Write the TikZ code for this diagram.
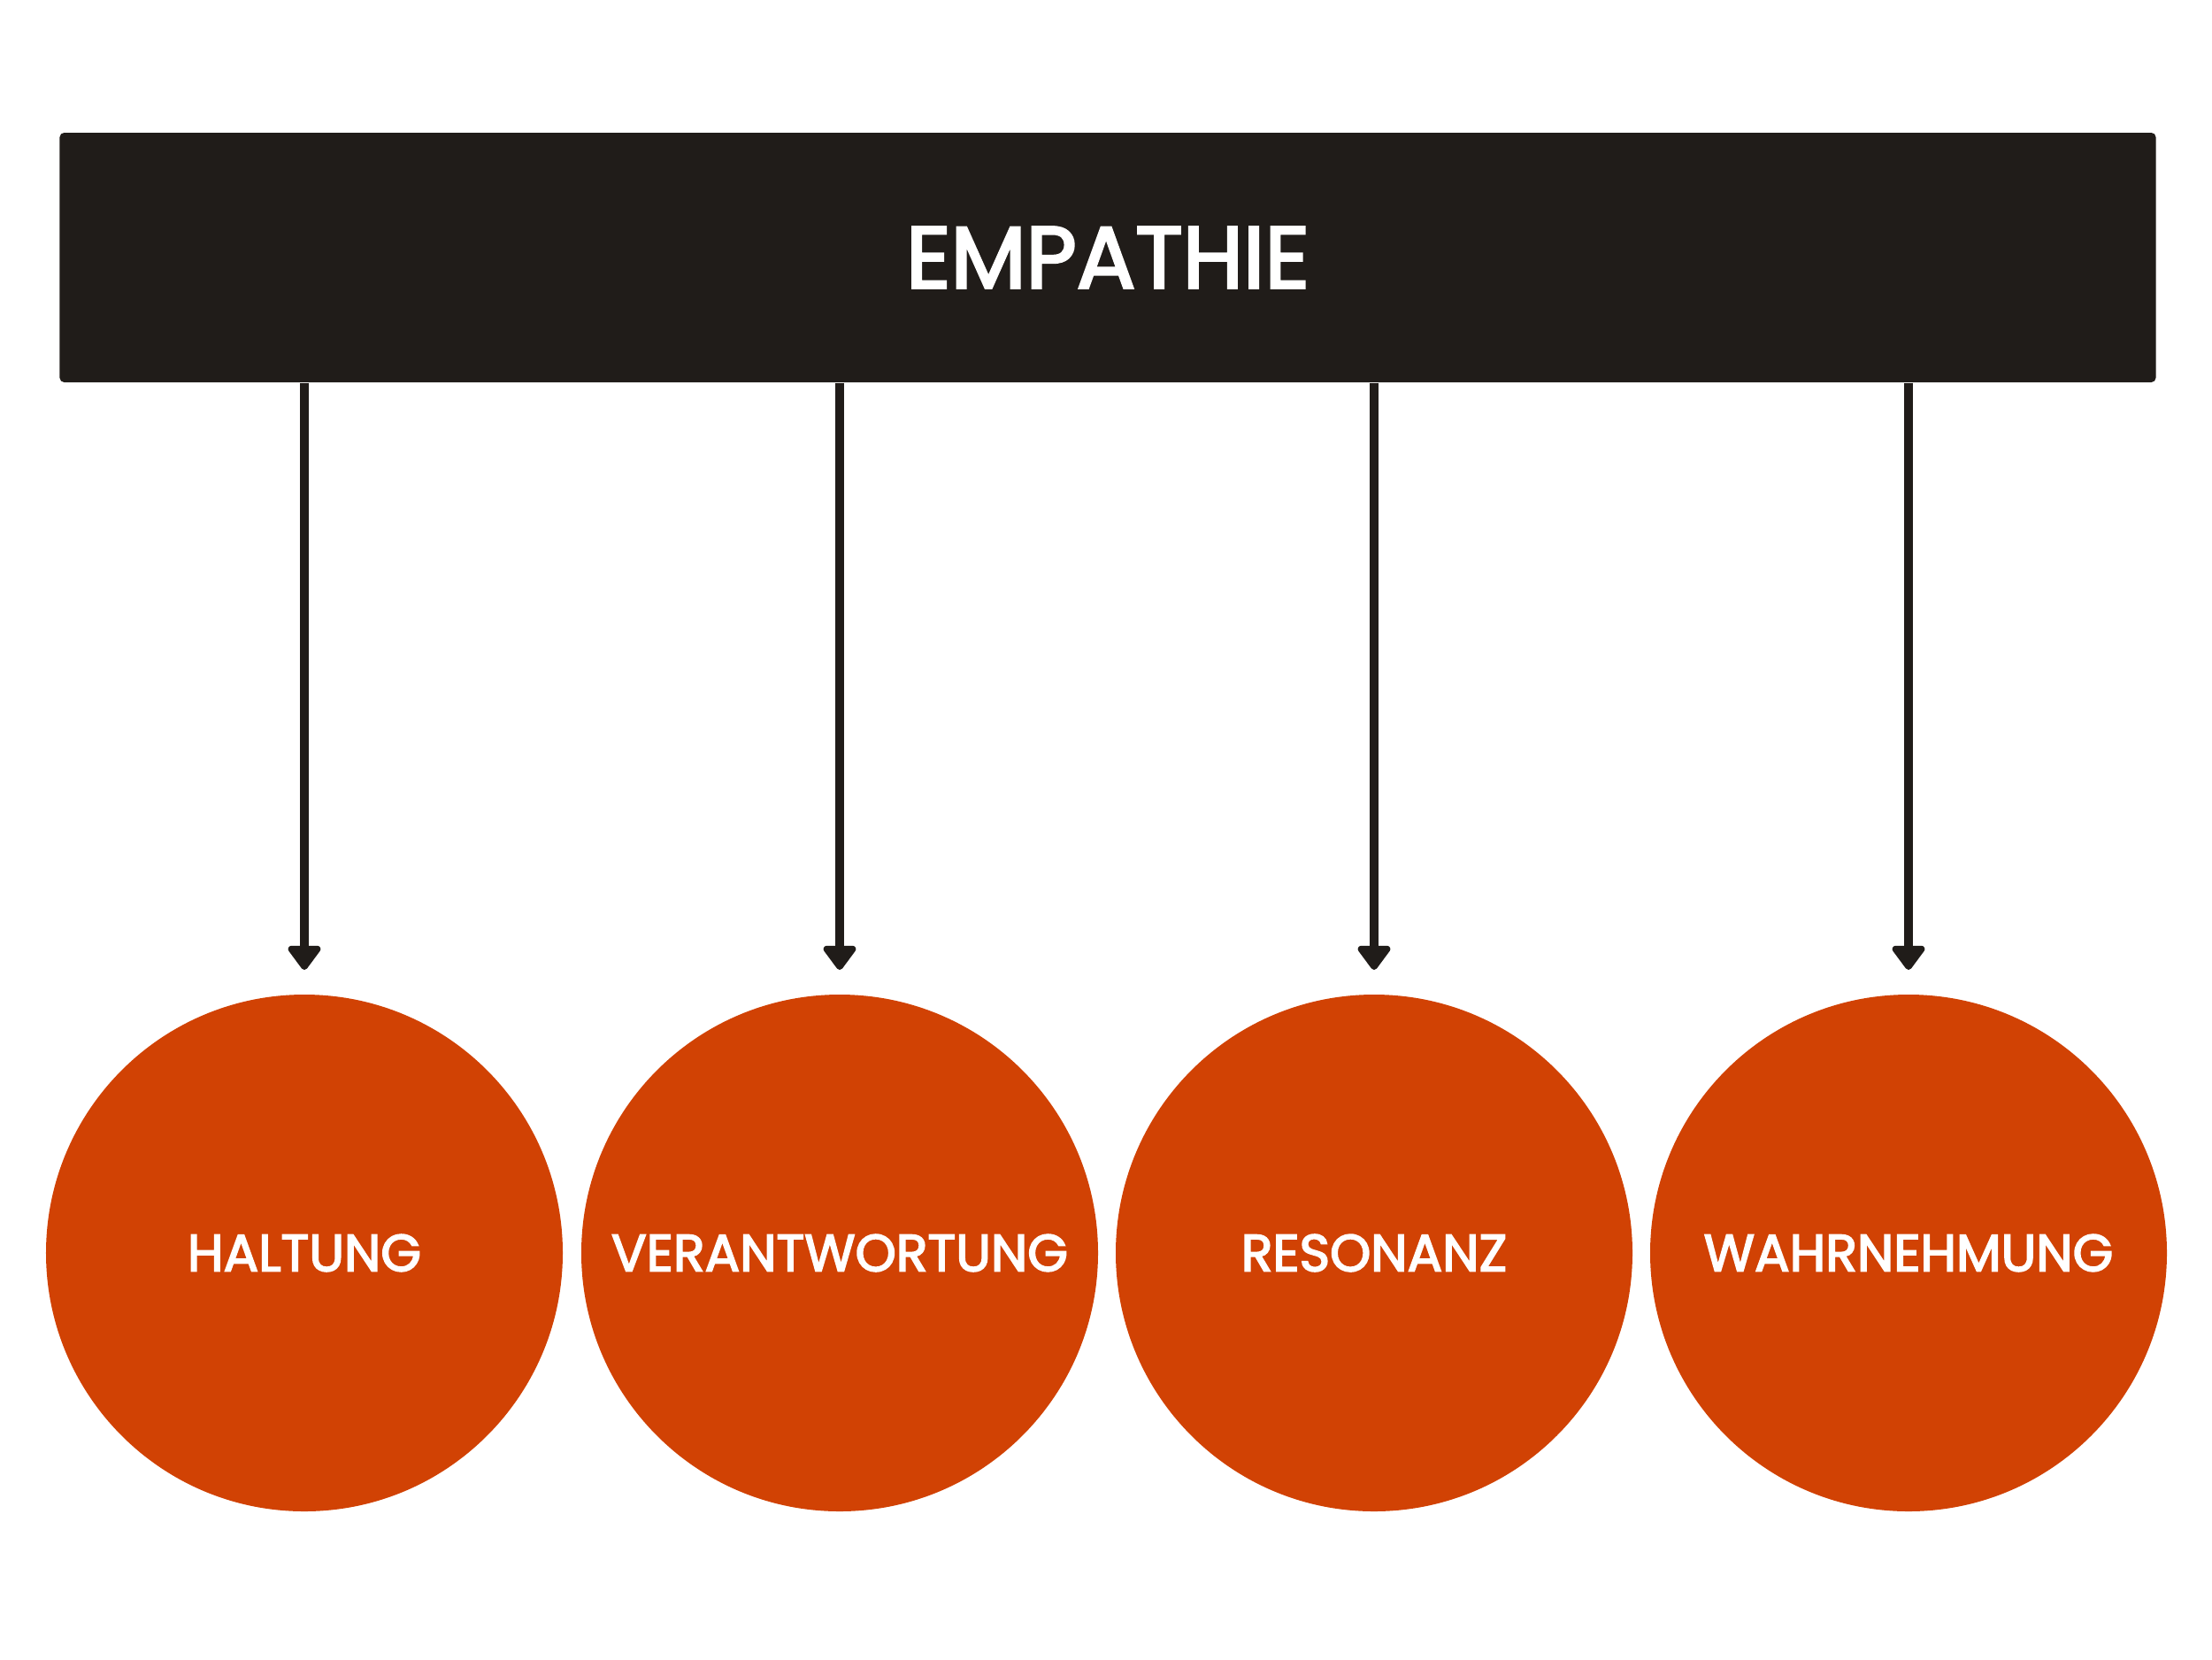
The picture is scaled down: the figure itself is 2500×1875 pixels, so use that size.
\documentclass[tikz,border=0pt]{standalone}
\usepackage{fontspec}
\setmainfont{Poppins}
\newfontfamily\medfont{Poppins}[FakeBold=3]
\usetikzlibrary{arrows.meta}
\definecolor{boxblack}{HTML}{201C19}
\definecolor{circorange}{HTML}{D14204}
\tikzset{
  topbox/.style={fill=boxblack, rounded corners=2pt, inner sep=0pt,
    minimum width=947.6pt, minimum height=112.8pt, text=white,
    font=\medfont\fontsize{39.5}{42}\selectfont},
  topic/.style={circle, fill=circorange, inner sep=0pt, minimum size=233.6pt,
    text=white, font=\medfont\fontsize{23.5}{26}\selectfont},
  conn/.style={draw=boxblack, line width=4.2pt,
    -{Triangle[width=16.8pt, length=12pt, round]}, shorten >=11pt}
}
\begin{document}
\begin{tikzpicture}[x=0.4pt, y=-0.4pt]
\useasboundingbox (0,0) rectangle (2500,1875);
\node[topbox] (emp) at (1252,291) {EMPATHIE};
\node[topic] (h) at (344,1416) {HALTUNG};
\node[topic] (v) at (949,1416) {VERANTWORTUNG};
\node[topic] (r) at (1553,1416) {RESONANZ};
\node[topic] (w) at (2157,1416) {WAHRNEHMUNG};
\foreach \n in {h,v,r,w}{
  \draw[conn] (emp.south -| \n.north) -- (\n.north);
}
\end{tikzpicture}
\end{document}
